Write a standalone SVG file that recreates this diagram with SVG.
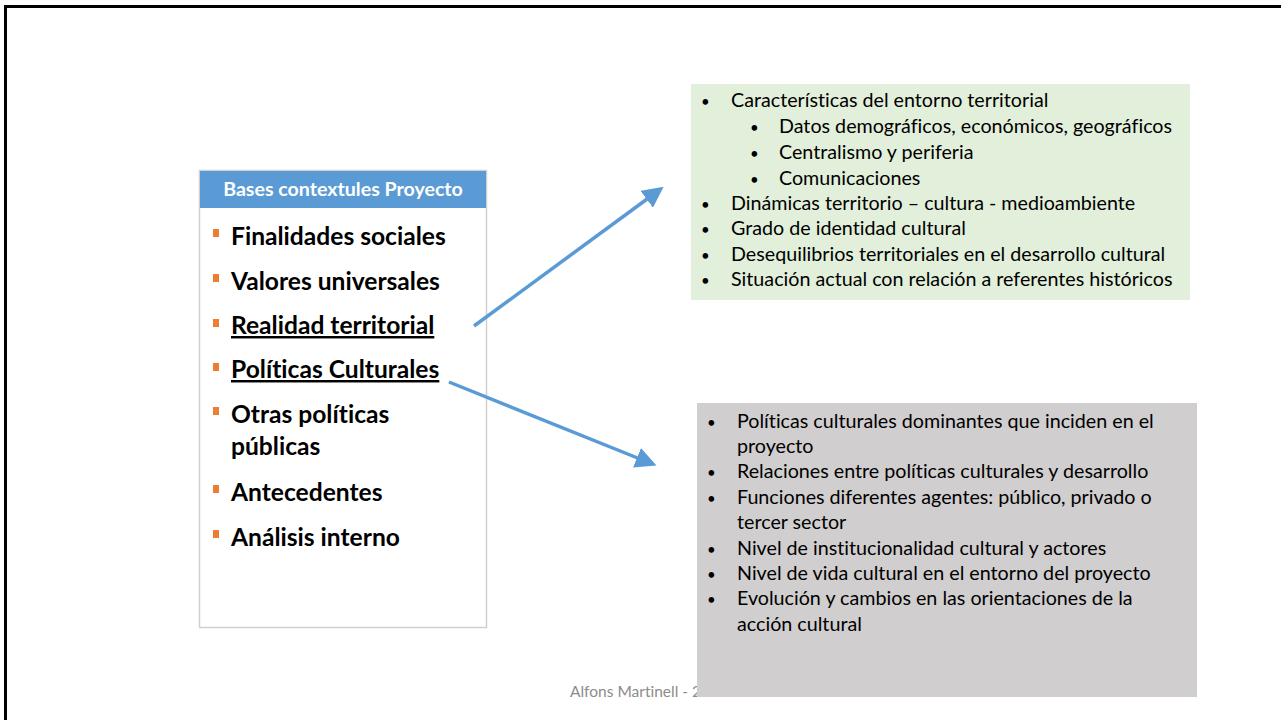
<svg xmlns="http://www.w3.org/2000/svg" width="1281" height="720" viewBox="0 0 1281 720">
<style>
.t{font-family:Lato,"Open Sans","Liberation Sans",sans-serif;font-variant-ligatures:none;}
.hd{font-size:19.6px;font-weight:bold;fill:#ffffff;}
.it{font-size:24.6px;font-weight:bold;fill:#000000;}
.sm{font-size:19.7px;fill:#000000;}
.bt{font-size:15px;}
.ft{font-size:15.5px;fill:#8c8c8c;}
.bul{fill:#ed7d31;}
.con{stroke:#5b9bd5;stroke-width:3.5;fill:none;}
</style>
<defs>
<marker id="ah" markerWidth="6" markerHeight="6" refX="4" refY="3" orient="auto" markerUnits="strokeWidth" viewBox="0 0 6 6">
<path d="M0,0 L6,3 L0,6 z" fill="#5b9bd5"/>
</marker>
</defs>
<rect x="0" y="0" width="1281" height="720" fill="#ffffff"/>
<g id="frame">
<line x1="4" y1="6.5" x2="1281" y2="6.5" stroke="#000" stroke-width="3"/>
<line x1="5.5" y1="5" x2="5.5" y2="720" stroke="#000" stroke-width="3"/>
</g>
<text class="t ft" x="570" y="697">Alfons Martinell - 20</text>
<g id="bases">
<rect x="199.5" y="170.5" width="287" height="457" fill="#ffffff" stroke="#d0d0d0" stroke-width="1.5"/>
<rect x="200" y="171" width="286" height="37" fill="#5b9bd5"/>
<text class="t hd" x="343" y="196" text-anchor="middle">Bases contextules Proyecto</text>
<rect class="bul" x="213" y="229" width="6" height="8"/>
<text class="t it" x="231" y="245">Finalidades sociales</text>
<rect class="bul" x="213" y="274" width="6" height="8"/>
<text class="t it" x="231" y="290">Valores universales</text>
<rect class="bul" x="213" y="319" width="6" height="8"/>
<text class="t it" x="231" y="334" text-decoration="underline">Realidad territorial</text>
<rect class="bul" x="213" y="363" width="6" height="8"/>
<text class="t it" x="231" y="378" text-decoration="underline">Políticas Culturales</text>
<rect class="bul" x="213" y="407" width="6" height="8"/>
<text class="t it" x="231" y="423">Otras políticas</text>
<text class="t it" x="231" y="455">públicas</text>
<rect class="bul" x="213" y="485" width="6" height="8"/>
<text class="t it" x="231" y="501">Antecedentes</text>
<rect class="bul" x="213" y="530" width="6" height="8"/>
<text class="t it" x="231" y="546">Análisis interno</text>
</g>
<g id="territorial">
<rect x="691" y="84" width="499" height="216" fill="#e2efda"/>
<g class="t sm">
<text class="bt" x="701" y="107">•</text><text x="731" y="107">Características del entorno territorial</text>
<text class="bt" x="750" y="133">•</text><text x="779" y="133">Datos demográficos, económicos, geográficos</text>
<text class="bt" x="750" y="159">•</text><text x="779" y="159">Centralismo y periferia</text>
<text class="bt" x="750" y="185">•</text><text x="779" y="185">Comunicaciones</text>
<text class="bt" x="701" y="210">•</text><text x="731" y="210">Dinámicas territorio – cultura - medioambiente</text>
<text class="bt" x="701" y="235">•</text><text x="731" y="235">Grado de identidad cultural</text>
<text class="bt" x="701" y="261">•</text><text x="731" y="261">Desequilibrios territoriales en el desarrollo cultural</text>
<text class="bt" x="701" y="286">•</text><text x="731" y="286">Situación actual con relación a referentes históricos</text>
</g>
</g>
<g id="politicas">
<rect x="697" y="403" width="500" height="294" fill="#d0cece"/>
<g class="t sm">
<text class="bt" x="707" y="428">•</text><text x="737" y="428">Políticas culturales dominantes que inciden en el</text>
<text x="737" y="453">proyecto</text>
<text class="bt" x="707" y="478">•</text><text x="737" y="478">Relaciones entre políticas culturales y desarrollo</text>
<text class="bt" x="707" y="504">•</text><text x="737" y="504">Funciones diferentes agentes: público, privado o</text>
<text x="737" y="529">tercer sector</text>
<text class="bt" x="707" y="555">•</text><text x="737" y="555">Nivel de institucionalidad cultural y actores</text>
<text class="bt" x="707" y="580">•</text><text x="737" y="580">Nivel de vida cultural en el entorno del proyecto</text>
<text class="bt" x="707" y="605">•</text><text x="737" y="605">Evolución y cambios en las orientaciones de la</text>
<text x="737" y="631">acción cultural</text>
</g>
</g>
<g id="connectors">
<line class="con" x1="474" y1="326" x2="658" y2="191" marker-end="url(#ah)"/>
<line class="con" x1="449" y1="382" x2="650" y2="463" marker-end="url(#ah)"/>
</g>
</svg>
